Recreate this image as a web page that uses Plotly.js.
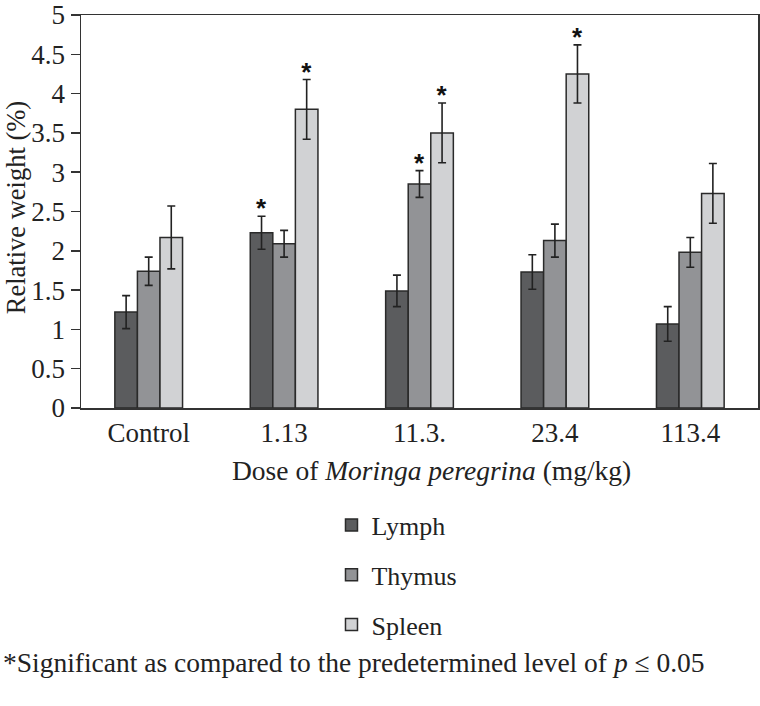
<!DOCTYPE html>
<html>
<head>
<meta charset="utf-8">
<script src="https://cdn.plot.ly/plotly-3.0.1.min.js"></script>
<style>html,body{margin:0;padding:0;background:#fff;}#chart{width:760px;height:706px;}</style>
</head>
<body>
<div id="chart"></div>
<script>
var doses = ["Control", "1.13", "11.3.", "23.4", "113.4"];
var seriesNames = ["Lymph", "Thymus", "Spleen"];
var lymph = [1.22, 2.23, 1.49, 1.73, 1.07];
var thymus = [1.74, 2.09, 2.85, 2.13, 1.98];
var spleen = [2.17, 3.80, 3.50, 4.25, 2.73];
var lymphErr = [0.21, 0.21, 0.20, 0.22, 0.22];
var thymusErr = [0.18, 0.17, 0.17, 0.21, 0.19];
var spleenErr = [0.40, 0.38, 0.38, 0.37, 0.38];
var lymphSig = [false, true, false, false, false];
var thymusSig = [false, false, true, false, false];
var spleenSig = [false, true, true, true, false];

var colors = ["#5b5c5e", "#929396", "#d1d2d4"];
var values = [lymph, thymus, spleen];
var errs = [lymphErr, thymusErr, spleenErr];
var sigs = [lymphSig, thymusSig, spleenSig];
var serif = "Liberation Serif, Times New Roman, serif";

var traces = [];
for (var i = 0; i < 3; i++) {
  traces.push({
    type: "bar", name: seriesNames[i], x: doses, y: values[i],
    legendgroup: "g" + i,
    marker: {color: colors[i], line: {color: "#2a2a2a", width: 1.5}},
    error_y: {type: "data", array: errs[i], visible: true, color: "#222", thickness: 1.6, width: 4},
    xaxis: "x", yaxis: "y", hoverinfo: "x+y"
  });
}
// significance stars placed on top of the error bars via transparent bars on an overlaid axis pair
for (var j = 0; j < 3; j++) {
  var tops = values[j].map(function (v, k) { return v + errs[j][k]; });
  traces.push({
    type: "bar", name: seriesNames[j] + " sig", x: doses, y: tops,
    text: sigs[j].map(function (s) { return s ? "*" : ""; }),
    textposition: "outside", cliponaxis: false, constraintext: "none",
    textfont: {family: "Liberation Sans, Arial, sans-serif", size: 26, color: "#111", weight: "bold"},
    marker: {color: "rgba(0,0,0,0)", line: {width: 0}},
    showlegend: false, hoverinfo: "skip",
    xaxis: "x2", yaxis: "y2"
  });
}

var layout = {
  width: 760, height: 706,
  margin: {l: 81, r: 2, t: 15, b: 298},
  paper_bgcolor: "#fff", plot_bgcolor: "#fff",
  barmode: "group", bargap: 0.5, bargroupgap: 0,
  font: {family: serif, color: "#222", size: 22},
  xaxis: {
    type: "category", showline: true, mirror: true, linecolor: "#333", linewidth: 1.5,
    ticks: "", showgrid: false, zeroline: false,
    tickfont: {family: serif, size: 27, color: "#222"}
  },
  xaxis2: {type: "category", overlaying: "x", matches: "x", visible: false},
  yaxis: {
    range: [0, 5], dtick: 0.5, showline: true, mirror: true, linecolor: "#333", linewidth: 1.5,
    ticks: "outside", ticklen: 9, tickwidth: 1.5, tickcolor: "#333",
    showgrid: false, zeroline: false, ticklabeloverflow: "allow",
    tickfont: {family: serif, size: 27, color: "#222"}
  },
  yaxis2: {range: [0.13, 5.13], overlaying: "y", visible: false},
  showlegend: true,
  legend: {
    x: 0.37, xanchor: "left", y: -0.238, yanchor: "top",
    orientation: "v", tracegroupgap: 13,
    font: {family: serif, size: 26, color: "#222"},
    bgcolor: "rgba(0,0,0,0)"
  },
  annotations: [{
    xref: "paper", yref: "paper", x: -0.0965, y: 0.51, xanchor: "center", yanchor: "middle",
    textangle: -90, showarrow: false,
    text: "Relative weight (%)",
    font: {family: serif, size: 26.5, color: "#222"}
  }, {
    xref: "paper", yref: "paper", x: 0.517, y: -0.158, xanchor: "center", yanchor: "middle",
    showarrow: false,
    text: "Dose of <i>Moringa peregrina</i> (mg/kg)",
    font: {family: serif, size: 27.5, color: "#222"}
  }, {
    xref: "paper", yref: "paper", x: -0.118, y: -0.648, xanchor: "left", yanchor: "middle",
    showarrow: false, align: "left",
    text: "*Significant as compared to the predetermined level of <i>p</i> ≤ 0.05",
    font: {family: serif, size: 27.5, color: "#222"}
  }]
};

Plotly.newPlot("chart", traces, layout, {displayModeBar: false, staticPlot: true});
</script>
</body>
</html>
